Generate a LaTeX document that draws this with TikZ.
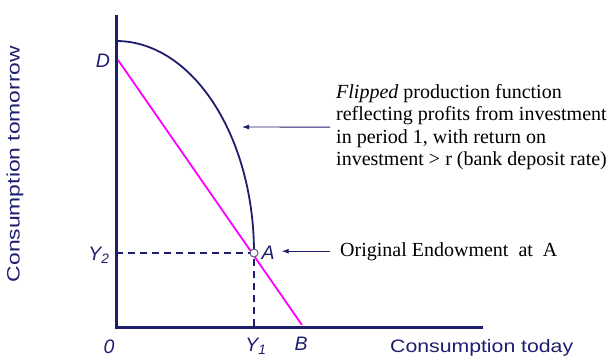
\documentclass[tikz,border=0pt]{standalone}
\usepackage{fontspec}
\setmainfont{Liberation Serif}
\setsansfont{Liberation Sans}
\newfontfamily\axisfont[FakeStretch=1.18]{Liberation Sans}
\newfontfamily\axisfontwide[FakeStretch=1.27]{Liberation Sans}
\usepackage{xcolor}
\usetikzlibrary{arrows.meta, positioning}
\definecolor{navy}{HTML}{1E1E6E}
\definecolor{budget}{HTML}{FF00FF}
\definecolor{dotrim}{HTML}{5A5A7A}

\tikzset{
  axis/.style={navy, line width=3pt},
  ppf/.style={navy, line width=1.8pt},
  budgetline/.style={budget, line width=1.8pt},
  guide/.style={navy, line width=1.5pt, dash pattern=on 7pt off 5pt},
  pointer/.style={navy, line width=0.9pt, -{Latex[length=7pt,width=5pt]}},
  lab/.style={text=navy, font=\sffamily\itshape\fontsize{19.5}{19.5}\selectfont, inner sep=1pt},
  axtitle/.style={text=navy, font=\axisfont\fontsize{18}{18}\selectfont, inner sep=0pt},
  note/.style={font=\fontsize{20}{22.5}\selectfont, align=left, inner xsep=6pt, inner ysep=0pt},
  enddot/.style={circle, draw=dotrim, fill=white, line width=1pt, inner sep=0pt, minimum size=8pt}
}

\begin{document}
\begin{tikzpicture}[x=1pt, y=-1pt]
    \useasboundingbox (0,0) rectangle (610,358);

    % axes
    \coordinate (O) at (116,327);
    \coordinate (ytop) at (116,15);
    \coordinate (xend) at (483,327);
    \draw[axis] (ytop) -- (O) -- (xend);

    % flipped production function
    \coordinate (C) at (116,41);
    \draw[ppf] (C) arc[start angle=-90, end angle=0, x radius=138, y radius=212] coordinate (A);

    % budget line D--B
    \coordinate (D) at (118,60);
    \coordinate (B) at (302,325);
    \draw[budgetline] (D) -- (B);

    % endowment guides
    \draw[guide] (O |- A) -- (A) -- (A |- O);
    \node[enddot] (Adot) at (A) {};

    % point labels
    \node[lab] (labD) at (103,61) {D};
    \node[lab] (labY2) at (99,255) {Y\textsubscript{2}};
    \node[lab, inner xsep=7pt] (labA) at (268,253) {A};
    \node[lab] (labO) at (109,347) {0};
    \node[lab] (labY1) at (256,346) {Y\textsubscript{1}};
    \node[lab] (labB) at (301,344) {B};

    % axis titles
    \node[axtitle, anchor=west] (xtitle) at (390,348) {Consumption today};
    \node[axtitle, font=\axisfontwide\fontsize{18}{18}\selectfont, rotate=90] (ytitle) at (15,164) {Consumption tomorrow};

    % notes and pointers
    \node[note, anchor=north west] (flip) at (330,84) {\textit{Flipped} production function\\
        reflecting profits from investment\\
        in period 1, with return on\\
        investment > r (bank deposit rate)};
    \coordinate (pf) at (242,127);
    \draw[pointer] (flip.west) -- (pf);

    \node[note, inner xsep=10pt, anchor=base west] (endow) at (330,256) {Original Endowment\ \ at\ \ A};
    \draw[pointer] (endow.west) -- (endow.west -| labA.east);
\end{tikzpicture}
\end{document}
